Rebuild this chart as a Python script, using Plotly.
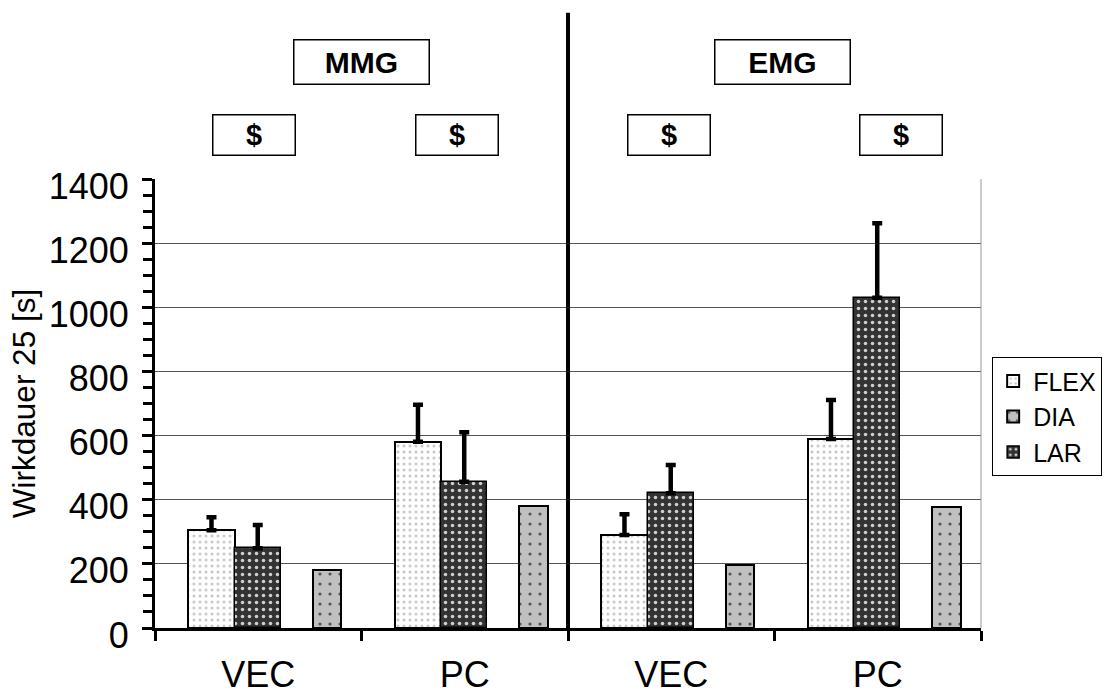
import plotly.graph_objects as go

# ---- data ----
groups = ["VEC", "PC", "VEC", "PC"]
flex = [305, 581, 290, 589]
flex_err = [40, 115, 65, 122]
lar = [249, 456, 420, 1030]
lar_err = [72, 154, 88, 232]
dia = [182, 380, 196, 378]
y_ticks = [0, 200, 400, 600, 800, 1000, 1200, 1400]
top_labels = ["MMG", "EMG"]
sig_labels = ["$", "$", "$", "$"]

pos = list(range(len(groups)))
FONT = "Liberation Sans, Arial, sans-serif"

fig = go.Figure()

fig.add_trace(go.Bar(
    x=pos, y=flex, name="FLEX", offset=-0.338, width=0.223, legendrank=1,
    marker=dict(color="white", line=dict(color="black", width=2),
                pattern=dict(shape=".", fgcolor="#c8c8c8", bgcolor="white",
                             size=6, solidity=0.2, fillmode="replace")),
    error_y=dict(type="data", symmetric=False, array=flex_err,
                 arrayminus=[0] * len(flex_err), color="black",
                 thickness=4.5, width=5),
))
fig.add_trace(go.Bar(
    x=pos, y=lar, name="LAR", offset=-0.115, width=0.225, legendrank=3,
    marker=dict(color="#333333", line=dict(color="black", width=1.5),
                pattern=dict(shape=".", fgcolor="#d0d0d0", bgcolor="#333333",
                             size=7, solidity=0.2, fillmode="replace")),
    error_y=dict(type="data", symmetric=False, array=lar_err,
                 arrayminus=[0] * len(lar_err), color="black",
                 thickness=4.5, width=5),
))
fig.add_trace(go.Bar(
    x=pos, y=dia, name="DIA", offset=0.263, width=0.138, legendrank=2,
    marker=dict(color="#c0c0c0", line=dict(color="black", width=2),
                pattern=dict(shape=".", fgcolor="#555555", bgcolor="#c0c0c0",
                             size=10, solidity=0.08, fillmode="replace")),
))

# right plot border (gray)
fig.add_shape(type="line", xref="paper", yref="paper", x0=1, x1=1, y0=0, y1=1,
              line=dict(color="#999999", width=1))
# vertical divider between MMG and EMG
fig.add_shape(type="line", xref="x", yref="paper", x0=1.5, x1=1.5, y0=0, y1=1.37,
              line=dict(color="black", width=4))

# header boxes
for txt, xc in zip(top_labels, [0.5, 2.54]):
    fig.add_annotation(x=xc, y=1.2612, xref="x", yref="paper", text="<b>%s</b>" % txt,
                       xanchor="center", yanchor="middle",
                       showarrow=False, width=134, height=43, borderpad=0,
                       bordercolor="black", borderwidth=1.5, bgcolor="white",
                       font=dict(family=FONT, size=30, color="black"))
for txt, xc in zip(sig_labels, [-0.02, 0.962, 1.991, 3.111]):
    fig.add_annotation(x=xc, y=1.099, xref="x", yref="paper", text="<b>%s</b>" % txt,
                       xanchor="center", yanchor="middle",
                       showarrow=False, width=81, height=39, borderpad=0,
                       bordercolor="black", borderwidth=1.5, bgcolor="white",
                       font=dict(family=FONT, size=29, color="black"))

fig.update_layout(
    width=1105, height=697,
    margin=dict(l=155, r=124, t=179, b=69, autoexpand=False),
    paper_bgcolor="white", plot_bgcolor="white",
    barmode="overlay", bargap=0,
    font=dict(family=FONT, color="black"),
    showlegend=True,
    legend=dict(x=1.0135, y=0.603, xanchor="left", yanchor="top",
                bordercolor="black", borderwidth=1, bgcolor="white",
                font=dict(family=FONT, size=25, color="black"),
                itemwidth=30, tracegroupgap=0),
    xaxis=dict(
        range=[-0.5, 3.5], tickmode="array", tickvals=pos, ticktext=groups,
        ticks="", showgrid=False, zeroline=False, automargin=False,
        showline=True, linecolor="black", linewidth=3,
        tickfont=dict(family=FONT, size=36, color="black"),
        ticklabelstandoff=13,
        minor=dict(tick0=-0.5, dtick=1, ticks="outside", ticklen=10,
                   tickwidth=3, tickcolor="black", showgrid=False),
    ),
    yaxis=dict(
        range=[0, 1400], tickmode="array", tickvals=y_ticks,
        ticks="outside", ticklen=10, tickwidth=3, tickcolor="black",
        showline=True, linecolor="black", linewidth=3, automargin=False,
        showgrid=True, gridcolor="#555555", gridwidth=1, zeroline=False,
        tickfont=dict(family=FONT, size=36, color="black"),
        ticklabelstandoff=6, ticklabelshift=7,
        minor=dict(dtick=50, ticks="outside", ticklen=9, tickwidth=3,
                   tickcolor="black", showgrid=False),
        title=dict(text="Wirkdauer 25 [s]", standoff=4,
                   font=dict(family=FONT, size=31.5, color="black")),
    ),
)

fig.write_html("out.html")
